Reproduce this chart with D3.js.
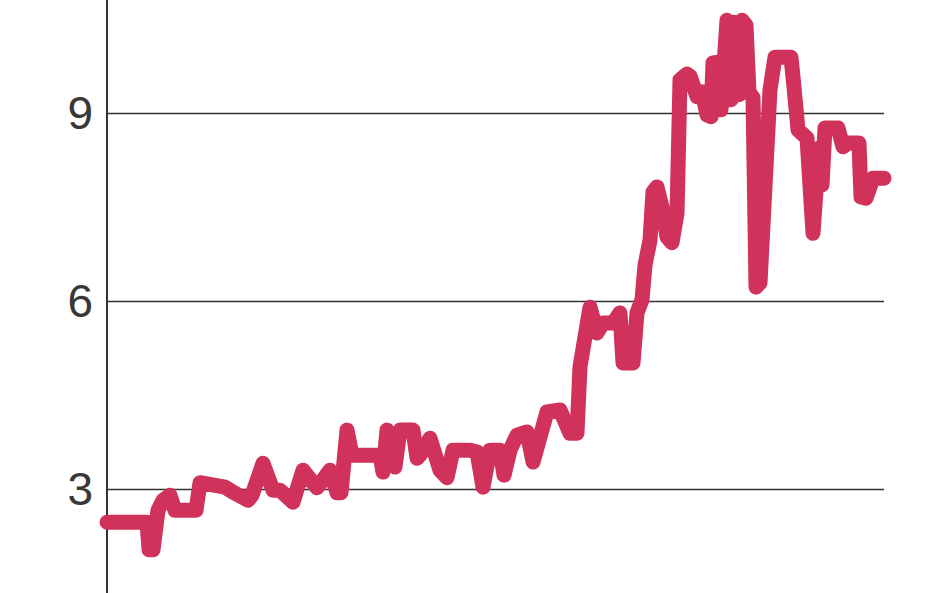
<!DOCTYPE html>
<meta charset="utf-8">
<style>
body { margin: 0; background: #fff; }
.line {
  fill: none;
  stroke: #d0325b;
  stroke-width: 15px;
  stroke-linejoin: round;
  stroke-linecap: round;
}
.grid line { stroke: #333; stroke-width: 1.6px; }
.grid text { font-family: "Liberation Sans Narrow", "Liberation Sans", sans-serif; font-size: 46px; fill: #383838; }
</style>
<body>
<script src="https://cdn.jsdelivr.net/npm/d3@7"></script>
<script>

// position along the period (arbitrary steps)
var steps = [0, 38, 40, 42, 46, 51, 56, 63, 68, 89, 93, 118, 126, 141, 145, 156, 166, 173, 186, 196,
  210, 223, 230, 234, 240, 245, 273, 276, 280, 288, 293, 306, 310, 313, 323, 333, 340, 346, 363, 370,
  376, 383, 393, 397, 403, 410, 420, 426, 433, 440, 453, 463, 470, 473, 483, 490, 496, 506, 513, 516,
  526, 530, 535, 538, 543, 546, 550, 555, 560, 565, 570, 573, 580, 583, 590, 595, 600, 604, 606, 611,
  614, 617, 620, 624, 627, 632, 635, 639, 642, 646, 649, 653, 663, 668, 684, 687, 691, 700, 706, 712,
  715, 718, 731, 736, 741, 752, 754, 759, 766, 777];

var values = [2.47, 2.47, 2.47, 2.03, 2.03, 2.66, 2.82, 2.9, 2.66, 2.66, 3.1, 3.03, 2.95, 2.82, 2.9, 3.41, 2.98, 2.98, 2.79, 3.3,
  3.02, 3.3, 2.94, 2.94, 3.94, 3.54, 3.54, 3.27, 3.94, 3.35, 3.94, 3.94, 3.49, 3.54, 3.81, 3.3, 3.18, 3.62, 3.62, 3.59,
  3.03, 3.62, 3.62, 3.22, 3.62, 3.86, 3.91, 3.43, 3.83, 4.23, 4.26, 3.89, 3.89, 4.95, 5.9, 5.49, 5.65, 5.65, 5.81, 5.01,
  5.01, 5.81, 6.02, 6.57, 6.97, 7.74, 7.82, 7.5, 7.02, 6.93, 7.4, 9.53, 9.62, 9.59, 9.26, 9.34, 8.97, 8.94, 9.8, 9.81,
  9.05, 9.77, 10.48, 9.21, 10.45, 9.29, 10.48, 10.4, 9.33, 9.25, 6.22, 6.29, 9.37, 9.89, 9.89, 9.41, 8.73, 8.6, 7.08, 8.44,
  7.85, 8.76, 8.76, 8.46, 8.52, 8.52, 7.66, 7.64, 7.96, 7.96];

var yTicks = [3, 6, 9];

var width = 948, height = 593;

var svg = d3.select("body").append("svg")
    .attr("width", width)
    .attr("height", height);

var x = d3.scaleLinear().domain([0, 777]).range([107, 884]);
var y = d3.scaleLinear().domain([3, 9]).range([489, 113]);

// gridlines + labels
var grid = svg.append("g")
    .attr("class", "grid")
    .attr("transform", "translate(" + x(0) + ",0)")
    .call(d3.axisLeft(y)
      .tickValues(yTicks)
      .tickSize(-(x(777) - x(0)))
      .tickPadding(14)
      .tickFormat(d3.format("d")));
grid.select(".domain").remove();
grid.selectAll(".tick line").attr("x1", 0);
grid.selectAll(".tick text").attr("dy", "0.34em");

// vertical axis line, full height
svg.append("line")
    .attr("x1", x(0)).attr("x2", x(0))
    .attr("y1", 0).attr("y2", height)
    .attr("stroke", "#333")
    .attr("stroke-width", 2);

var data = steps.map(function(s, i) { return {t: s, v: values[i]}; });

var valueLine = d3.line()
    .x(function(d) { return x(d.t); })
    .y(function(d) { return y(d.v); });

svg.append("path")
    .datum(data)
    .attr("class", "line")
    .attr("d", valueLine);

</script>
</body>
